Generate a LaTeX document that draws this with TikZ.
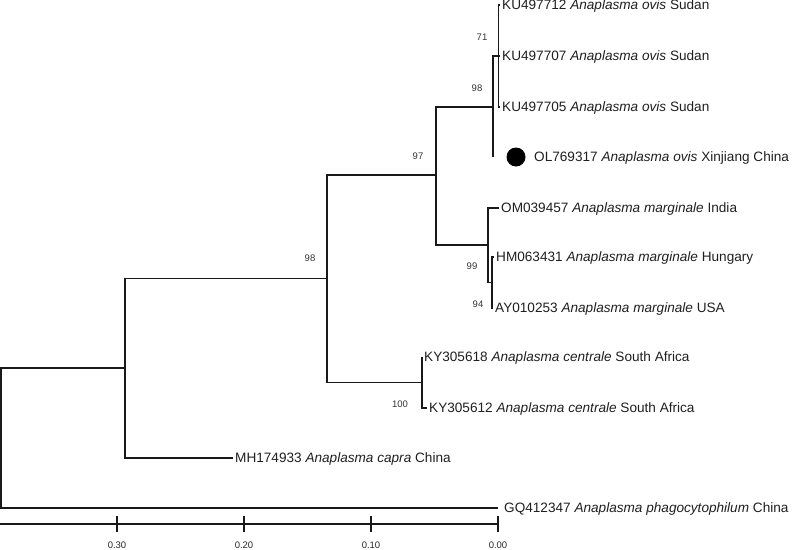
\documentclass[tikz,border=0pt]{standalone}
\usepackage{fontspec}
\setmainfont{Liberation Sans}
\begin{document}
\begin{tikzpicture}[x=1pt,y=-1pt,
  br/.style={line width=1.4pt, draw=black!90},
  leaf/.style={anchor=west, inner xsep=2pt, inner ysep=0pt, text height=9.74pt, text depth=0pt, font=\fontsize{13.6}{16}\selectfont, text=black!88},
  boot/.style={font=\fontsize{9.5}{11}\selectfont, inner sep=0pt, text=black!80},
  ticklab/.style={font=\fontsize{9.5}{11}\selectfont, inner sep=0pt, text=black!85},
  dot/.style={circle, fill=black, inner sep=0pt, minimum size=19pt}]
\useasboundingbox (0,0) rectangle (792,549);
% internal nodes
\coordinate (R) at (1,438);
\coordinate (A) at (125,368);
\coordinate (B) at (327,278.5);
\coordinate (C) at (436,175);
\coordinate (D) at (493,107);
\coordinate (E) at (498.5,56);
\coordinate (F) at (488,245);
\coordinate (G) at (492,282.5);
\coordinate (H) at (422,382.5);
\coordinate (OLt) at (493,157);
% leaves
\node[leaf] (ku712) at (500,5) {KU497712 \textit{Anaplasma ovis} Sudan};
\node[leaf] (ku707) at (500,56) {KU497707 \textit{Anaplasma ovis} Sudan};
\node[leaf] (ku705) at (500,107) {KU497705 \textit{Anaplasma ovis} Sudan};
\node[dot] (olc) at (516,157) {};
\node[leaf] (ol) at (532,157) {OL769317 \textit{Anaplasma ovis} Xinjiang China};
\node[leaf] (om) at (499,208) {OM039457 \textit{Anaplasma marginale} India};
\node[leaf] (hm) at (494,257) {HM063431 \textit{Anaplasma marginale} Hungary};
\node[leaf] (ay) at (493,308) {AY010253 \textit{Anaplasma marginale} USA};
\node[leaf] (ky618) at (422,357) {KY305618 \textit{Anaplasma centrale} South Africa};
\node[leaf] (ky612) at (427,408) {KY305612 \textit{Anaplasma centrale} South Africa};
\node[leaf] (mh) at (233,458) {MH174933 \textit{Anaplasma capra} China};
\node[leaf, inner xsep=6pt] (gq) at (498,508) {GQ412347 \textit{Anaplasma phagocytophilum} China};
% branches
\draw[br] (R) |- (A);
\draw[br] (R) |- (gq.west);
\draw[br] (A) |- (B);
\draw[br] (A) |- (mh.west);
\draw[br] (B) |- (C);
\draw[br] (B) |- (H);
\draw[br] (C) |- (D);
\draw[br] (C) |- (F);
\draw[br] (D) |- (E);
\draw[br] (D) |- (OLt);
\draw[br] (E) |- (ku712.west);
\draw[br] (E) |- (ku707.west);
\draw[br] (E) |- (ku705.west);
\draw[br] (F) |- (om.west);
\draw[br] (F) |- (G);
\draw[br] (G) |- (hm.west);
\draw[br] (G) |- (ay.west);
\draw[br] (H) |- (ky618.west);
\draw[br] (H) |- (ky612.west);
% bootstrap values
\node[boot] (b71) at (482,37) {71};
\node[boot] (b98a) at (477,88) {98};
\node[boot] (b97) at (418,156) {97};
\node[boot] (b98b) at (310,258) {98};
\node[boot] (b99) at (472,266) {99};
\node[boot] (b94) at (478,304) {94};
\node[boot] (b100) at (400,404) {100};
% scale bar
\coordinate (s0) at (0,524);
\coordinate (s4) at (498,524);
\draw[line width=1.2pt, black!90] (s0) -- (s4);
\foreach \x/\l in {117/0.30,244/0.20,371/0.10,498/0.00}{
  \draw[line width=1.2pt, black!90] (\x,516) -- (\x,532);
  \node[ticklab] at (\x,545) {\l};
}
\end{tikzpicture}
\end{document}
